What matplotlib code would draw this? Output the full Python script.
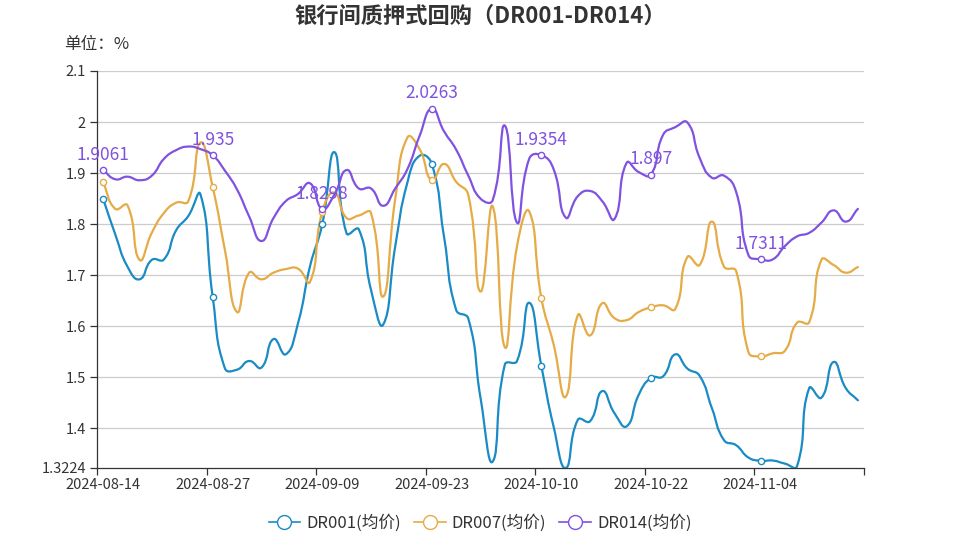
import matplotlib
matplotlib.use("Agg")
import matplotlib.pyplot as plt
from matplotlib.path import Path
from matplotlib.patches import PathPatch
from matplotlib.lines import Line2D
import numpy as np

plt.rcParams['font.family'] = ['Noto Sans CJK SC', 'DejaVu Sans']

# trading days, 2024-08-14 .. 2024-11-14
dates = ["2024-08-14", "2024-08-15", "2024-08-16", "2024-08-19", "2024-08-20",
         "2024-08-21", "2024-08-22", "2024-08-23", "2024-08-26", "2024-08-27",
         "2024-08-28", "2024-08-29", "2024-08-30", "2024-09-02", "2024-09-03",
         "2024-09-04", "2024-09-05", "2024-09-06", "2024-09-09", "2024-09-10",
         "2024-09-11", "2024-09-12", "2024-09-13", "2024-09-14", "2024-09-18",
         "2024-09-19", "2024-09-20", "2024-09-23", "2024-09-24", "2024-09-25",
         "2024-09-26", "2024-09-27", "2024-09-29", "2024-09-30", "2024-10-08",
         "2024-10-09", "2024-10-10", "2024-10-11", "2024-10-12", "2024-10-14",
         "2024-10-15", "2024-10-16", "2024-10-17", "2024-10-18", "2024-10-21",
         "2024-10-22", "2024-10-23", "2024-10-24", "2024-10-25", "2024-10-28",
         "2024-10-29", "2024-10-30", "2024-10-31", "2024-11-01", "2024-11-04",
         "2024-11-05", "2024-11-06", "2024-11-07", "2024-11-08", "2024-11-11",
         "2024-11-12", "2024-11-13", "2024-11-14"]

dr001 = [1.850, 1.780, 1.717, 1.692, 1.730, 1.731, 1.788, 1.816, 1.858, 1.658,
         1.518, 1.515, 1.532, 1.519, 1.575, 1.545, 1.605, 1.718, 1.800, 1.941,
         1.782, 1.790, 1.672, 1.603, 1.757, 1.882, 1.934, 1.918, 1.776, 1.632,
         1.615, 1.460, 1.335, 1.525, 1.532, 1.646, 1.522, 1.404, 1.3224, 1.417,
         1.414, 1.473, 1.430, 1.404, 1.466, 1.499, 1.502, 1.545, 1.517, 1.503,
         1.440, 1.377, 1.367, 1.343, 1.3365, 1.337, 1.331, 1.326, 1.479, 1.460,
         1.530, 1.479, 1.455]

dr007 = [1.882, 1.830, 1.837, 1.730, 1.783, 1.822, 1.842, 1.845, 1.960, 1.873,
         1.750, 1.628, 1.705, 1.692, 1.705, 1.712, 1.713, 1.687, 1.824, 1.862,
         1.812, 1.817, 1.822, 1.658, 1.850, 1.970, 1.947, 1.886, 1.918, 1.883,
         1.857, 1.668, 1.835, 1.559, 1.757, 1.825, 1.655, 1.565, 1.462, 1.622,
         1.582, 1.645, 1.616, 1.612, 1.628, 1.637, 1.641, 1.634, 1.736, 1.720,
         1.805, 1.717, 1.708, 1.550, 1.541, 1.547, 1.552, 1.607, 1.608, 1.730,
         1.720, 1.705, 1.716]

dr014 = [1.9061, 1.888, 1.893, 1.886, 1.895, 1.928, 1.945, 1.952, 1.947, 1.935,
         1.905, 1.868, 1.815, 1.767, 1.812, 1.845, 1.859, 1.880, 1.8298, 1.858,
         1.906, 1.870, 1.870, 1.836, 1.870, 1.908, 1.973, 2.0263, 1.982, 1.946,
         1.895, 1.850, 1.847, 1.993, 1.803, 1.928, 1.9354, 1.908, 1.813, 1.855,
         1.865, 1.845, 1.810, 1.920, 1.902, 1.897, 1.975, 1.990, 1.999, 1.930,
         1.891, 1.895, 1.863, 1.740, 1.7311, 1.731, 1.757, 1.776, 1.783, 1.803,
         1.827, 1.805, 1.830]

names = ["DR001(均价)", "DR007(均价)", "DR014(均价)"]
colors = ["#1a8bc4", "#e5ab46", "#8052e0"]
y_ticks = [1.3224, 1.4, 1.5, 1.6, 1.7, 1.8, 1.9, 2.0, 2.1]
STEP = 9  # marker / label interval


#######################
# Smooth curve the echarts way: bezier control points from neighbours,
# worked out in pixel space so the look matches
def smoothPath(ys, sx, sy, smooth=0.5):
    n = len(ys)
    px = np.arange(n) * sx
    py = np.asarray(ys) * sy
    cps = []
    for i in range(n):
        pi = max(i - 1, 0)
        ni = min(i + 1, n - 1)
        vx = px[ni] - px[pi]
        vy = py[ni] - py[pi]
        lp = np.hypot(px[i] - px[pi], py[i] - py[pi])
        ln = np.hypot(px[ni] - px[i], py[ni] - py[i])
        r = ln / (ln + lp) if (ln + lp) > 0 else 0.5
        c0 = (px[i] - vx * smooth * (1 - r), py[i] - vy * smooth * (1 - r))
        c1 = (px[i] + vx * smooth * r, py[i] + vy * smooth * r)
        cps.append((c0, c1))
    verts = [(px[0], py[0])]
    codes = [Path.MOVETO]
    for i in range(n - 1):
        verts += [cps[i][1], cps[i + 1][0], (px[i + 1], py[i + 1])]
        codes += [Path.CURVE4] * 3
    verts = [(vx / sx, vy / sy) for vx, vy in verts]
    return Path(verts, codes)


fig = plt.figure(figsize=(9.6, 5.4), dpi=100)
ax = fig.add_axes([97 / 960, 72 / 540, 767 / 960, 397 / 540])

n = len(dates)
ymin, ymax = y_ticks[0], y_ticks[-1]
ax.set_xlim(-0.5, n - 0.5)
ax.set_ylim(ymin, ymax)

# pixel scale for smoothing
sx = 767 / n
sy = 397 / (ymax - ymin)

idx = list(range(0, n, STEP))
for ys, c in zip([dr001, dr007, dr014], colors):
    ax.add_patch(PathPatch(smoothPath(ys, sx, sy), fill=False, edgecolor=c,
                           lw=1.6, zorder=3, capstyle='round', joinstyle='round'))
    ax.plot(idx, [ys[i] for i in idx], 'o', ms=4.5, mfc='white', mec=c,
            mew=1.0, zorder=4, clip_on=False)

# labels only for DR014
for i in idx:
    ax.annotate("{:g}".format(dr014[i]), (i, dr014[i]), xytext=(0, 4.5),
                textcoords='offset points', ha='center', va='bottom',
                color=colors[2], fontsize=12.5, zorder=5)

# grid
for t in y_ticks[1:]:
    ax.axhline(t, color='#cccccc', lw=0.9, zorder=1)

ax.set_yticks(y_ticks)
ax.set_yticklabels(["{:g}".format(t) for t in y_ticks])
ax.set_xticks(idx)
ax.set_xticklabels([dates[i] for i in idx])
ax.set_xticks([i - 0.5 for i in idx] + [n - 0.5], minor=True)
ax.tick_params(axis='x', which='major', length=0, pad=7, labelsize=10.5,
               colors='#333333')
ax.tick_params(axis='x', which='minor', length=5, width=0.9, color='#333333')
ax.tick_params(axis='y', length=5, width=0.9, pad=3, labelsize=10.5,
               colors='#333333')

for s in ['top', 'right']:
    ax.spines[s].set_visible(False)
for s in ['left', 'bottom']:
    ax.spines[s].set_color('#333333')
    ax.spines[s].set_linewidth(0.9)

fig.text(0.5, 1 - 16 / 540, "银行间质押式回购（DR001-DR014）", ha='center',
         va='center', fontsize=16, fontweight='bold', color='#333333')
fig.text(64 / 960, 1 - 44 / 540, "单位：%", ha='left', va='center',
         fontsize=12, color='#333333')

handles = [Line2D([], [], color=c, lw=1.2, marker='o', ms=10, mfc='white',
                  mec=c, mew=1.0) for c in colors]
fig.legend(handles, names, loc='center', bbox_to_anchor=(0.5, 1 - 523 / 540),
           ncol=3, frameon=False, fontsize=12, handlelength=1.9,
           handletextpad=0.35, columnspacing=0.8, labelcolor='#333333')

fig.savefig("out.png", dpi=100)
